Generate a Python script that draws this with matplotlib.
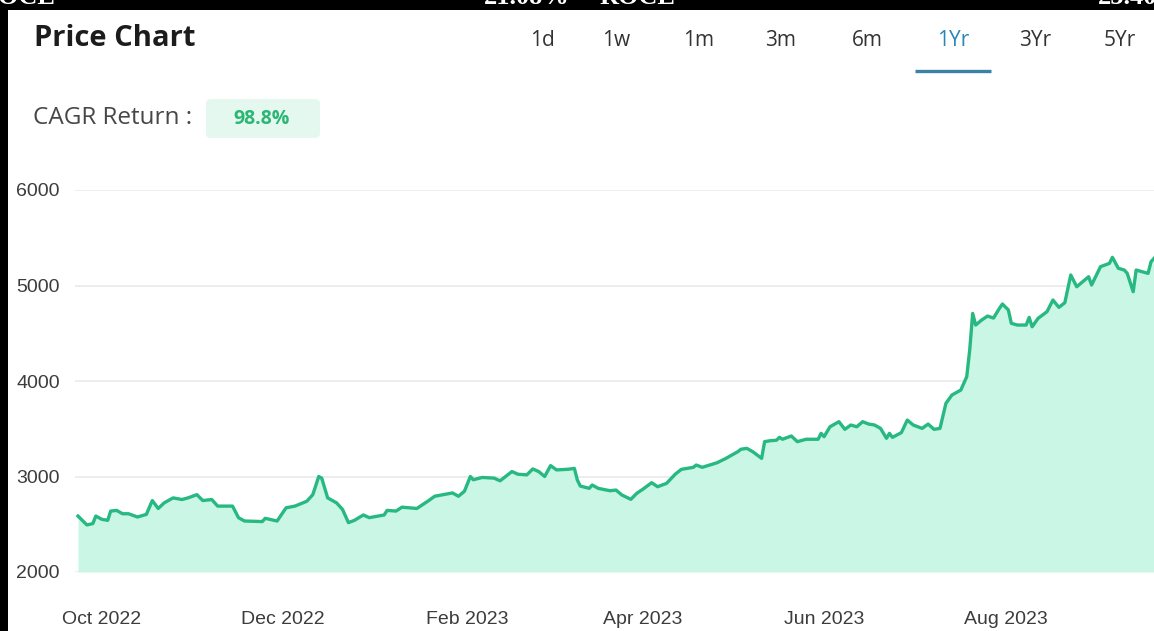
import matplotlib
matplotlib.use("Agg")
import matplotlib.pyplot as plt
import matplotlib.dates as mdates
from matplotlib.patches import Rectangle, FancyBboxPatch
import pandas as pd

# price series
dates = [
    "2022-09-23", "2022-09-26", "2022-09-28", "2022-09-29", "2022-10-01",
    "2022-10-03", "2022-10-04", "2022-10-06", "2022-10-08", "2022-10-10",
    "2022-10-13", "2022-10-16", "2022-10-18", "2022-10-20", "2022-10-22",
    "2022-10-25", "2022-10-28", "2022-10-30", "2022-11-02", "2022-11-04",
    "2022-11-07", "2022-11-09", "2022-11-14", "2022-11-16", "2022-11-18",
    "2022-11-24", "2022-11-25", "2022-11-29", "2022-12-02", "2022-12-05",
    "2022-12-09", "2022-12-11", "2022-12-13", "2022-12-14", "2022-12-16",
    "2022-12-19", "2022-12-21", "2022-12-23", "2022-12-25", "2022-12-28",
    "2022-12-30", "2023-01-04", "2023-01-05", "2023-01-08", "2023-01-10",
    "2023-01-15", "2023-01-19", "2023-01-21", "2023-01-24", "2023-01-27",
    "2023-01-29", "2023-01-31", "2023-02-02", "2023-02-03", "2023-02-06",
    "2023-02-10", "2023-02-12", "2023-02-16", "2023-02-18", "2023-02-21",
    "2023-02-23", "2023-02-25", "2023-02-27", "2023-03-01", "2023-03-03",
    "2023-03-07", "2023-03-09", "2023-03-10", "2023-03-11", "2023-03-14",
    "2023-03-15", "2023-03-17", "2023-03-21", "2023-03-23", "2023-03-25",
    "2023-03-28", "2023-03-30", "2023-04-01", "2023-04-04", "2023-04-06",
    "2023-04-09", "2023-04-12", "2023-04-14", "2023-04-18", "2023-04-19",
    "2023-04-21", "2023-04-26", "2023-04-29", "2023-05-03", "2023-05-04",
    "2023-05-06", "2023-05-08", "2023-05-11", "2023-05-12", "2023-05-14",
    "2023-05-16", "2023-05-17", "2023-05-18", "2023-05-21", "2023-05-23",
    "2023-05-26", "2023-05-30", "2023-05-31", "2023-06-01", "2023-06-03",
    "2023-06-06", "2023-06-08", "2023-06-10", "2023-06-12", "2023-06-14",
    "2023-06-16", "2023-06-18", "2023-06-20", "2023-06-22", "2023-06-23",
    "2023-06-24", "2023-06-27", "2023-06-29", "2023-07-01", "2023-07-04",
    "2023-07-06", "2023-07-08", "2023-07-10", "2023-07-12", "2023-07-14",
    "2023-07-17", "2023-07-19", "2023-07-20", "2023-07-21", "2023-07-22",
    "2023-07-24", "2023-07-26", "2023-07-28", "2023-07-30", "2023-07-31",
    "2023-08-02", "2023-08-03", "2023-08-05", "2023-08-08", "2023-08-09",
    "2023-08-10", "2023-08-12", "2023-08-15", "2023-08-17", "2023-08-19",
    "2023-08-21", "2023-08-23", "2023-08-25", "2023-08-27", "2023-08-29",
    "2023-08-30", "2023-09-02", "2023-09-05", "2023-09-06", "2023-09-08",
    "2023-09-10", "2023-09-11", "2023-09-13", "2023-09-14", "2023-09-18",
    "2023-09-19", "2023-09-20",
]
prices = [
    2586, 2493, 2507, 2586, 2552, 2541, 2638, 2645, 2610, 2610,
    2576, 2603, 2748, 2665, 2724, 2776, 2759, 2776, 2810, 2748,
    2759, 2690, 2690, 2569, 2534, 2528, 2562, 2534, 2672, 2690,
    2741, 2810, 3000, 2983, 2776, 2724, 2655, 2517, 2541, 2597,
    2569, 2597, 2645, 2638, 2679, 2665, 2748, 2793, 2810, 2828,
    2793, 2845, 3000, 2966, 2990, 2983, 2955, 3052, 3024, 3017,
    3079, 3052, 3000, 3114, 3069, 3076, 3085, 2963, 2900, 2876,
    2911, 2876, 2851, 2858, 2806, 2761, 2824, 2866, 2935, 2893,
    2928, 3026, 3075, 3096, 3120, 3096, 3144, 3190, 3260, 3285,
    3295, 3260, 3190, 3365, 3375, 3380, 3410, 3390, 3424, 3365,
    3390, 3390, 3452, 3417, 3521, 3574, 3494, 3539, 3521, 3574,
    3549, 3539, 3504, 3400, 3452, 3410, 3459, 3591, 3539, 3504,
    3549, 3494, 3504, 3766, 3853, 3905, 4045, 4324, 4708, 4586,
    4638, 4680, 4659, 4761, 4806, 4744, 4604, 4586, 4586, 4666,
    4568, 4656, 4726, 4848, 4771, 4820, 5110, 4987, 5040, 5092,
    5005, 5197, 5232, 5295, 5180, 5162, 5127, 4935, 5162, 5127,
    5249, 5284,
]
y_ticks = [2000, 3000, 4000, 5000, 6000]
x_ticks = ["2022-10-01", "2022-12-01", "2023-02-01",
           "2023-04-01", "2023-06-01", "2023-08-01"]
periods = ["1d", "1w", "1m", "3m", "6m", "1Yr", "3Yr", "5Yr"]
period_x = [542, 616, 699, 780, 867, 953, 1035, 1120]
active_period = "1Yr"
cagr = "98.8%"
# clipped text of the screenshot above the widget
top_texts = ["ROCE", "21.08%", "ROCE", "25.40"]
top_x = [-20, 484, 600, 1098]

W, H = 1154, 631
LINE = "#27b981"
FILL = "#c9f6e5"


def fx(px):
    return px / W


def fy(py):
    return 1 - py / H


x = pd.to_datetime(dates)

fig = plt.figure(figsize=(W / 100, H / 100), dpi=100)
fig.patch.set_facecolor("white")

ax = fig.add_axes([fx(75), fy(572), 1 - fx(75), (572 - 190) / H])
ax.fill_between(x, prices, 2000, color=FILL, linewidth=0, zorder=1)
ax.plot(x, prices, color=LINE, linewidth=2.4, solid_joinstyle="round", zorder=3)

ax.set_ylim(2000, 6000)
ax.set_xlim(pd.Timestamp("2022-09-22"), pd.Timestamp("2023-09-20"))
ax.set_yticks(y_ticks)
ax.set_xticks(pd.to_datetime(x_ticks))
ax.xaxis.set_major_formatter(mdates.DateFormatter("%b %Y"))
ax.grid(axis="y", color="#ececec", linewidth=1.3, zorder=0)
ax.set_axisbelow(True)
for s in ax.spines.values():
    s.set_visible(False)
ax.tick_params(length=0, labelcolor="#3c3c3c")
ax.tick_params(axis="y", pad=11, labelsize=14)
ax.tick_params(axis="x", pad=28, labelsize=14)
for lab in ax.get_xticklabels() + ax.get_yticklabels():
    lab.set_fontfamily("Liberation Sans")

# header
fig.text(fx(34), fy(38), "Price Chart", fontsize=21, fontweight="bold",
         family="Open Sans", color="#1c1c1c", va="center", ha="left")
for p, px in zip(periods, period_x):
    active = p == active_period
    fig.text(fx(px), fy(41), p, fontsize=15, family="Open Sans",
             color="#2b86b8" if active else "#333333", ha="center", va="center")
ui = fig.add_axes([0, 0, 1, 1], facecolor="none")
ui.set_xlim(0, W)
ui.set_ylim(H, 0)
ui.axis("off")
ui.plot([915, 991], [70.5, 70.5], color="#3b82a8", linewidth=2.4,
        solid_capstyle="butt")

fig.text(fx(33), fy(118), "CAGR Return :", fontsize=17.5, family="Open Sans",
         color="#474747", va="center", ha="left")
ui.add_patch(FancyBboxPatch((206, 99), 114, 39,
                            boxstyle="round,pad=0,rounding_size=5",
                            facecolor="#e4f8ef", edgecolor="none"))
fig.text(fx(262), fy(119), cagr, fontsize=14, fontweight="bold",
         family="Open Sans", color="#2bb673", ha="center", va="center")

# black screenshot borders
ui.add_patch(Rectangle((0, 0), W, 10, facecolor="black", edgecolor="none"))
ui.add_patch(Rectangle((0, 0), 8, H, facecolor="black", edgecolor="none"))
for txt, px in zip(top_texts, top_x):
    fig.text(fx(px), fy(4), txt, fontsize=19, fontweight="bold",
             family="Liberation Serif", color="white", ha="left", va="baseline")

fig.savefig("out.png", dpi=100)
